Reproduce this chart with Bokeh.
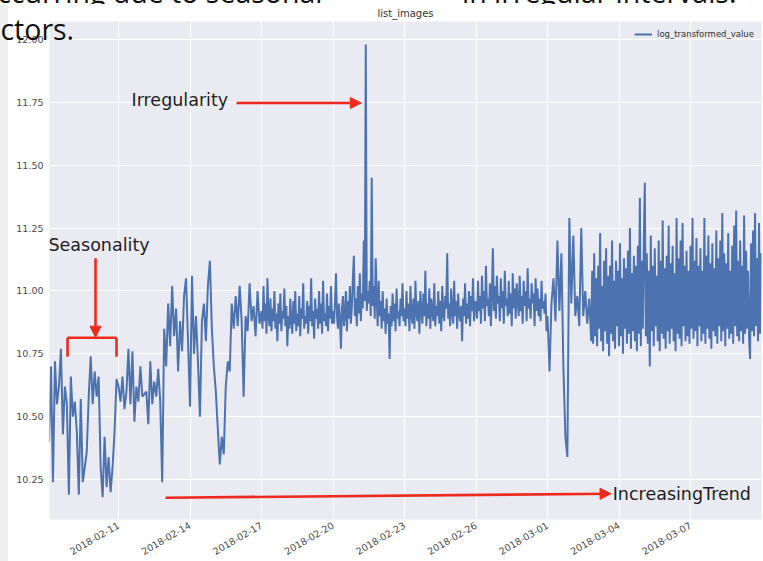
import math

import pandas as pd
from bokeh.embed import file_html
from bokeh.layouts import column
from bokeh.models import (Arrow, ColumnDataSource, DatetimeTickFormatter, Div, FixedTicker,
                          Label, Legend, LegendItem, NormalHead, NumeralTickFormatter, Range1d)
from bokeh.plotting import figure
from bokeh.resources import INLINE

# ---- log-transformed image counts -------------------------------------------
# two-hourly readings until 16 February
feb08_10 = [10.40, 10.70, 10.24, 10.72, 10.55, 10.62, 10.77, 10.43, 10.62, 10.55,
            10.19, 10.66, 10.50, 10.56, 10.44, 10.19, 10.57, 10.24, 10.30, 10.36,
            10.58, 10.74, 10.55, 10.68, 10.58, 10.66, 10.30, 10.18, 10.42, 10.22,
            10.34, 10.20, 10.30, 10.44, 10.65]
feb11_13 = [10.62, 10.56, 10.66, 10.53, 10.60, 10.77, 10.55, 10.76, 10.48, 10.62,
            10.56, 10.70, 10.58, 10.59, 10.60, 10.47, 10.72, 10.55, 10.64, 10.58,
            10.69, 10.56, 10.24, 10.85, 10.70, 10.95, 10.78, 11.02, 10.82, 10.93,
            10.68, 10.88, 10.76, 10.98, 11.05, 10.80]
feb14_16 = [10.54, 11.06, 10.75, 10.90, 10.72, 10.50, 10.88, 10.95, 10.80, 11.02,
            11.12, 10.85, 10.70, 10.60, 10.45, 10.31, 10.42, 10.35, 10.62, 10.72,
            10.68, 10.95, 10.85, 10.98, 10.86, 11.02, 10.88, 10.58, 10.90, 10.84,
            11.03, 10.88, 10.94, 10.82, 11.00, 10.87]
# hourly readings 17 February - 28 February
feb17_19 = [10.92, 10.85, 11.02, 10.88, 10.95, 10.83, 11.05, 10.90, 10.86, 10.97, 10.84, 10.93,
            10.88, 11.00, 10.85, 10.91, 10.80, 10.95, 10.87, 10.99, 10.84, 10.92, 10.89, 11.01,
            10.86, 10.94, 10.78, 10.90, 10.85, 10.97, 10.88, 10.83, 10.96, 10.87, 11.00, 10.84,
            10.91, 10.86, 10.98, 10.82, 10.93, 10.89, 11.03, 10.85, 10.90, 10.87, 10.96, 10.83,
            10.94, 10.88, 11.05, 10.86, 10.92, 10.81, 10.97, 10.89, 10.93, 10.85, 11.00, 10.87,
            10.95, 10.83, 11.04, 10.88, 10.91, 10.86, 10.99, 10.84, 10.94, 10.89, 11.02, 10.87]
feb20_22 = [10.92, 10.87, 10.96, 11.07, 10.90, 10.85, 10.95, 10.88, 10.77, 10.93, 10.98, 10.86,
            10.91, 11.00, 10.84, 10.96, 10.89, 11.02, 10.87, 10.94, 11.05, 11.14, 10.90, 10.97,
            10.86, 11.02, 10.91, 11.07, 10.88, 10.99, 10.93, 11.20, 10.96, 11.98, 10.92, 11.00,
            10.95, 11.04, 10.90, 11.45, 10.94, 11.02, 10.89, 11.13, 10.97, 10.86, 11.04, 10.90,
            10.96, 10.85, 11.00, 10.88, 10.93, 10.83, 10.97, 10.87, 10.91, 10.73, 10.94, 10.86,
            10.99, 10.88, 10.95, 10.84, 11.01, 10.89, 10.92, 10.86, 10.97, 10.90, 11.03, 10.88]
feb23_25 = [10.93, 10.86, 11.00, 10.89, 10.95, 10.84, 11.02, 10.90, 10.87, 10.97, 10.85, 11.04,
            10.91, 10.88, 10.96, 10.83, 11.00, 10.92, 10.87, 10.99, 10.90, 11.08, 10.86, 10.95,
            10.89, 11.01, 10.85, 10.97, 10.92, 10.88, 11.03, 10.86, 10.94, 10.90, 11.00, 10.87,
            10.96, 10.84, 11.02, 10.91, 10.88, 10.98, 10.93, 11.15, 10.89, 10.95, 10.86, 11.01,
            10.92, 10.87, 11.04, 10.90, 10.96, 10.85, 10.99, 10.91, 10.88, 10.94, 10.80, 10.97,
            10.90, 11.03, 10.87, 10.95, 10.89, 11.00, 10.86, 10.98, 10.92, 11.05, 10.88, 10.96]
feb26_28 = [10.95, 10.89, 11.04, 10.92, 10.98, 10.87, 11.06, 10.93, 11.00, 10.88, 11.10, 10.94,
            10.97, 10.90, 11.03, 10.86, 10.99, 11.17, 10.92, 11.02, 10.89, 11.06, 10.95, 10.98,
            10.88, 11.05, 10.93, 11.00, 10.87, 11.08, 10.94, 10.97, 10.90, 11.04, 10.91, 10.99,
            10.86, 11.07, 10.93, 11.01, 10.89, 11.03, 10.96, 10.90, 11.06, 10.92, 10.98, 10.87,
            11.04, 10.94, 11.00, 10.88, 11.09, 10.93, 10.97, 10.89, 11.03, 10.95, 10.99, 10.86,
            11.05, 10.92, 11.01, 10.90, 10.97, 10.88, 11.04, 10.93, 10.96, 10.91, 10.99, 10.84]
# two-hourly readings 1 - 2 March
mar01_02 = [10.90, 10.68, 10.95, 11.05, 10.88, 11.20, 10.92, 11.15, 10.70, 10.42,
            10.34, 11.29, 10.95, 11.22, 10.90, 10.98, 10.86, 11.25, 10.90, 11.00,
            10.87, 10.97]
# hourly from 2018-03-02 20:00
mar02_late = [10.80, 11.08, 10.79, 11.15]
mar03 = [10.82, 11.05, 10.78, 11.10, 10.85, 11.23, 10.80, 11.02, 10.76, 11.12, 10.84, 11.17,
         10.79, 11.06, 10.74, 11.10, 10.83, 11.20, 10.80, 11.04, 10.77, 11.12, 10.86, 11.08]
mar04 = [10.78, 11.19, 10.82, 11.05, 10.75, 11.13, 10.85, 11.09, 10.79, 11.16, 10.83, 11.25,
         10.77, 11.07, 10.84, 11.14, 10.80, 11.10, 10.76, 11.18, 10.83, 11.37, 10.78, 11.12]
mar05 = [10.85, 11.20, 11.43, 10.82, 11.15, 10.79, 11.08, 10.70, 11.22, 10.84, 11.10, 10.78,
         11.17, 10.86, 11.06, 10.80, 11.20, 10.76, 11.12, 10.83, 11.28, 10.81, 11.09, 10.77]
mar06 = [11.14, 10.84, 11.26, 10.79, 11.11, 10.85, 11.18, 10.80, 11.07, 10.76, 11.29, 10.83,
         11.13, 10.81, 11.20, 10.78, 11.27, 10.86, 11.10, 10.80, 11.16, 10.82, 11.08, 10.79]
mar07 = [11.18, 10.85, 11.29, 10.81, 11.12, 10.84, 11.21, 10.78, 11.10, 10.86, 11.17, 10.80,
         11.08, 10.83, 11.29, 10.79, 11.14, 10.85, 11.22, 10.81, 11.11, 10.77, 11.19, 10.84]
mar08 = [11.09, 10.82, 11.24, 10.79, 11.13, 10.86, 11.20, 10.80, 11.31, 10.84, 11.15, 10.78,
         11.11, 10.85, 11.23, 10.81, 11.08, 10.83, 11.18, 10.79, 11.26, 10.86, 11.32, 10.82]
mar09 = [11.12, 10.80, 11.20, 10.84, 11.10, 10.79, 11.30, 10.83, 11.16, 10.85, 11.08, 10.81,
         10.73, 11.19, 10.84, 11.24, 10.82, 11.31, 10.86, 11.13, 10.80, 11.27, 10.83, 11.15]

segments = [
    ("2018-02-08 02:00", "2h", feb08_10),
    ("2018-02-11 00:00", "2h", feb11_13),
    ("2018-02-14 00:00", "2h", feb14_16),
    ("2018-02-17 00:00", "1h", feb17_19 + feb20_22 + feb23_25 + feb26_28),
    ("2018-03-01 00:00", "2h", mar01_02),
    ("2018-03-02 20:00", "1h",
     mar02_late + mar03 + mar04 + mar05 + mar06 + mar07 + mar08 + mar09),
]

tick_dates = ["2018-02-11", "2018-02-14", "2018-02-17", "2018-02-20", "2018-02-23",
              "2018-02-26", "2018-03-01", "2018-03-04", "2018-03-07"]
value_ticks = [10.25, 10.50, 10.75, 11.00, 11.25, 11.50, 11.75, 12.00]

# ---- assemble the series ------------------------------------------------------
times, vals = [], []
for start, step, seg in segments:
    times.extend(pd.date_range(start, periods=len(seg), freq=step))
    vals.extend(seg)
source = ColumnDataSource(data=dict(t=times, v=vals))


def ms(ts):
    return pd.Timestamp(ts).value / 1e6


BLUE = "#4C72B0"
RED = "#EE2A1E"
INK = "#1E1E1E"

p = figure(width=763, height=561, output_backend="svg", toolbar_location=None,
           x_axis_type="datetime", title="list_images",
           x_range=Range1d(ms("2018-02-08 02:30"), ms("2018-03-09 23:30")),
           y_range=Range1d(10.0915, 12.071),
           min_border_left=49, min_border_right=2, min_border_top=21, min_border_bottom=39)
p.background_fill_color = "#EAEAF2"
p.border_fill_color = "white"
p.outline_line_color = None

p.title.align = "center"
p.title.text_font = "DejaVu Sans"
p.title.text_font_size = "10px"
p.title.text_font_style = "normal"
p.title.text_color = "#333333"
p.title.standoff = 5
p.title.offset = 0

line = p.line("t", "v", source=source, line_color=BLUE, line_width=2.0)

# axes in seaborn "darkgrid" style
p.xaxis.ticker = FixedTicker(ticks=[ms(d) for d in tick_dates])
fmt = "%Y-%m-%d"
p.xaxis.formatter = DatetimeTickFormatter(days=fmt, months=fmt, years=fmt, hours=fmt,
                                          hourmin=fmt, minutes=fmt, minsec=fmt,
                                          seconds=fmt, milliseconds=fmt, microseconds=fmt)
p.xaxis.major_label_orientation = math.pi / 6
p.yaxis.ticker = FixedTicker(ticks=value_ticks)
p.yaxis.formatter = NumeralTickFormatter(format="0.00")
for ax in (p.xaxis, p.yaxis):
    ax.axis_line_color = None
    ax.major_tick_line_color = None
    ax.minor_tick_line_color = None
    ax.major_tick_out = 0
    ax.major_tick_in = 0
    ax.minor_tick_out = 0
    ax.major_label_text_font = "DejaVu Sans"
    ax.major_label_text_font_size = "9.5px"
    ax.major_label_text_color = "#4a4a4a"
p.xaxis.major_label_standoff = 5
p.yaxis.major_label_standoff = 6
p.grid.grid_line_color = "white"
p.grid.grid_line_width = 1

legend = Legend(items=[LegendItem(label="log_transformed_value", renderers=[line])],
                location="top_right", margin=3, padding=4, label_height=12, glyph_height=12,
                glyph_width=18, label_standoff=5, label_text_font="DejaVu Sans",
                label_text_font_size="8.5px", label_text_color="#333333",
                background_fill_alpha=0, border_line_alpha=0)
p.add_layout(legend)

# ---- annotations -------------------------------------------------------------
def note(x, y, text):
    p.add_layout(Label(x=ms(x), y=y, text=text, text_align="left", text_baseline="middle",
                       text_font="DejaVu Sans", text_font_size="17.5px", text_color=INK))


def arrow(x0, y0, x1, y1, head=True):
    p.add_layout(Arrow(x_start=ms(x0), y_start=y0, x_end=ms(x1), y_end=y1,
                       line_color=RED, line_width=2.6,
                       end=NormalHead(size=11, fill_color=RED, line_color=RED, line_width=1)
                       if head else None))


note("2018-02-11 13:05", 11.759, "Irregularity")
arrow("2018-02-15 22:50", 11.747, "2018-02-21 04:30", 11.747)

note("2018-02-08 01:25", 11.182, "Seasonality")
arrow("2018-02-10 00:50", 11.130, "2018-02-10 00:50", 10.816)
arrow("2018-02-08 20:40", 10.738, "2018-02-08 20:40", 10.814, head=False)
arrow("2018-02-08 20:40", 10.814, "2018-02-10 22:00", 10.814, head=False)
arrow("2018-02-10 22:00", 10.814, "2018-02-10 22:00", 10.738, head=False)

note("2018-03-03 17:40", 10.194, "IncreasingTrend")
arrow("2018-02-12 23:20", 10.178, "2018-03-03 16:00", 10.194)

# ---- slide around the chart: grey margin and the cropped slide text ------------
def overlay(text, left, top, **css):
    style = {"position": "absolute", "left": f"{left}px", "top": f"{top}px",
             "z-index": "10", "margin": "0", "padding": "0", "white-space": "nowrap",
             "font-family": "'Open Sans'", "font-size": "28.5px", "line-height": "1",
             "color": "#111111"}
    style.update(css)
    return Div(text=text, styles=style)


margin_strip = overlay("", 0, 5, width="8px", height="556px", background="#EFEFEF")
# the first slide line runs off the top of the page ...
slide_line_1 = overlay("occurring due to seasonal", -20, -22)
slide_line_2 = overlay("in irregular intervals.", 462, -22)
# ... and the white chart image covers it from 4px down (the title stays clear)
cover_left = overlay("", 8, 4, width="366px", height="16px", background="white")
cover_right = overlay("", 438, 4, width="325px", height="16px", background="white")
slide_line_3 = overlay("factors.", -25, 15)

page = column(p, margin_strip, slide_line_1, slide_line_2, cover_left, cover_right,
              slide_line_3)

open("out.html", "w").write(file_html(page, INLINE))
